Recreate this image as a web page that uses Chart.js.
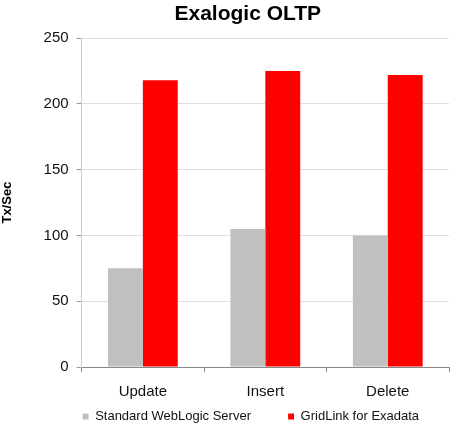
<!DOCTYPE html>
<html>
<head>
<meta charset="utf-8">
<script src="https://cdn.jsdelivr.net/npm/chart.js@4"></script>
<style>
  html, body { margin: 0; padding: 0; background: #fff; }
  #wrap { width: 459px; height: 429px; }
</style>
</head>
<body>
<div id="wrap"><canvas id="chart" width="459" height="429"></canvas></div>
<script>
const categories = ["Update", "Insert", "Delete"];
const standardWls = [75, 105, 100];
const gridLink = [218, 225, 222];
const yTicks = [0, 50, 100, 150, 200, 250];

// the legend items sit further apart than chart.js's padding allows, so pad the label text
const legendGap = ["          ", ""];

const ctx = document.getElementById("chart").getContext("2d");
const chart = new Chart(ctx, {
  type: "bar",
  data: {
    labels: categories,
    datasets: [
      { label: "Standard WebLogic Server", data: standardWls, backgroundColor: "#c0c0c0", borderWidth: 0 },
      { label: "GridLink for Exadata", data: gridLink, backgroundColor: "#ff0000", borderWidth: 0 }
    ]
  },
  options: {
    responsive: false,
    animation: false,
    devicePixelRatio: 1,
    layout: { padding: { left: 0, right: 10, top: 0, bottom: -4 } },
    datasets: { bar: { categoryPercentage: 0.57, barPercentage: 1.0 } },
    plugins: {
      title: {
        display: true,
        fullSize: false,
        text: "Exalogic OLTP      ",
        color: "#000",
        font: { family: "Liberation Sans", size: 21, weight: "bold" },
        padding: { top: 2, bottom: 11 }
      },
      legend: {
        position: "bottom",
        fullSize: false,
        align: "start",
        labels: {
          color: "#111",
          font: { family: "Liberation Sans", size: 13 },
          boxWidth: 6,
          boxHeight: 6,
          padding: 1,
          generateLabels: (c) => {
            const items = Chart.defaults.plugins.legend.labels.generateLabels(c);
            items.forEach((it, i) => { it.text = it.text + legendGap[i]; });
            return items;
          }
        }
      },
      tooltip: { enabled: false }
    },
    scales: {
      x: {
        afterFit: (axis) => { axis.height = 42; },
        grid: { display: true, drawOnChartArea: false, color: "#888", tickLength: 5 },
        border: { color: "#888" },
        ticks: { color: "#111", font: { family: "Liberation Sans", size: 15 }, padding: 11 }
      },
      y: {
        min: 0,
        max: 250,
        afterBuildTicks: (axis) => { axis.ticks = yTicks.map(v => ({ value: v })); },
        grid: { color: "#dedede", tickLength: 5, tickColor: "#999" },
        border: { color: "#cccccc" },
        ticks: { color: "#111", font: { family: "Liberation Sans", size: 15 }, padding: 8 },
        title: {
          display: true,
          text: "Tx/Sec",
          color: "#000",
          font: { family: "Liberation Sans", size: 13, weight: "bold" },
          padding: { top: 0, bottom: 20 }
        }
      }
    }
  }
});
</script>
</body>
</html>
